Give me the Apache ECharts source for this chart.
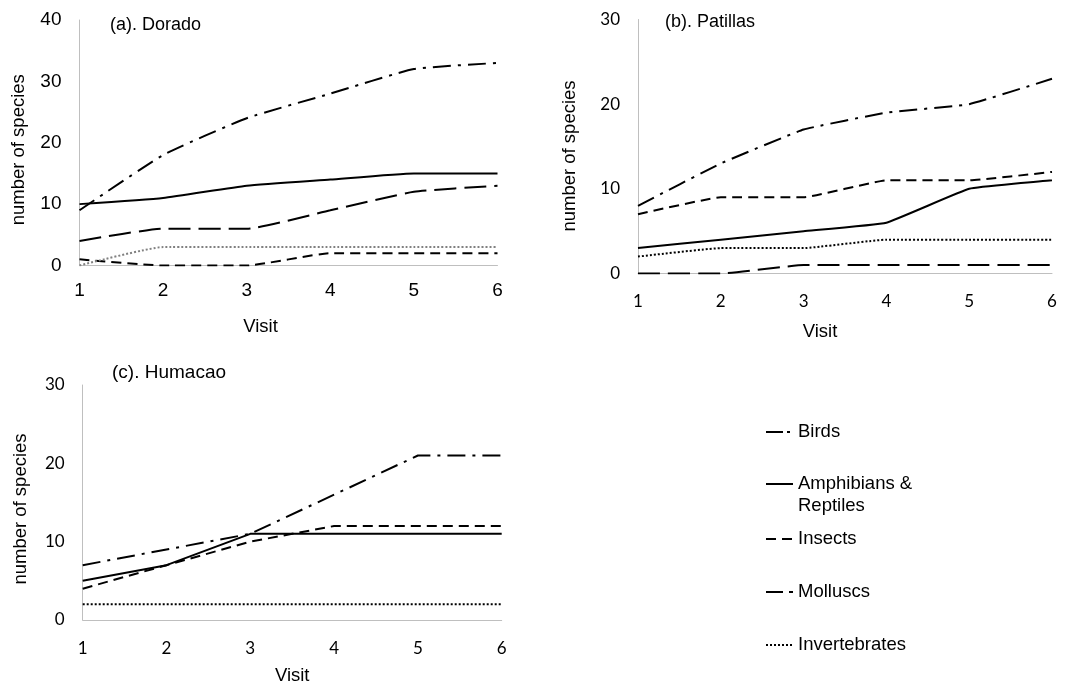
<!DOCTYPE html>
<html>
<head>
<meta charset="utf-8">
<script src="https://cdn.jsdelivr.net/npm/echarts@6/dist/echarts.min.js"></script>
<style>html,body{margin:0;padding:0;background:#fff}#c{width:1072px;height:686px}</style>
</head>
<body>
<div id="c"></div>
<script>
const visits = ['1', '2', '3', '4', '5', '6'];
const groups = ['Birds', 'Amphibians & Reptiles', 'Insects', 'Molluscs', 'Invertebrates'];

const doradoBirds = [9, 18, 24, 28, 32, 33];
const doradoAmph = [10, 11, 13, 14, 15, 15];
const doradoInsects = [1, 0, 0, 2, 2, 2];
const doradoMolluscs = [4, 6, 6, 9, 12, 13];
const doradoInvert = [0, 3, 3, 3, 3, 3];

const patillasBirds = [8, 13, 17, 19, 20, 23];
const patillasAmph = [3, 4, 5, 6, 10, 11];
const patillasInsects = [7, 9, 9, 11, 11, 12];
const patillasMolluscs = [0, 0, 1, 1, 1, 1];
const patillasInvert = [2, 3, 3, 4, 4, 4];

const humacaoBirds = [7, 9, 11, 16, 21, 21];
const humacaoAmph = [5, 7, 11, 11, 11, 11];
const humacaoInsects = [4, 7, 10, 12, 12, 12];
const humacaoMolluscs = [null, null, null, null, null, null];
const humacaoInvert = [2, 2, 2, 2, 2, 2];

const yTicksA = [0, 10, 20, 30, 40];
const yTicksBC = [0, 10, 20, 30];

const styles = {
  'Birds': { type: [18, 7, 3, 7], width: 2, color: '#000' },
  'Amphibians & Reptiles': { type: 'solid', width: 2, color: '#000' },
  'Insects': { type: [10, 6], width: 2, color: '#000' },
  'Molluscs': { type: [22, 8], width: 2, color: '#000' },
  'Invertebrates': { type: [2, 2], width: 2, color: '#000' }
};
const legendDash = {
  'Birds': [17, 4, 3, 4],
  'Amphibians & Reptiles': 'solid',
  'Insects': [10, 6],
  'Molluscs': [17, 6],
  'Invertebrates': [2, 2]
};

const panels = [
  { data: [doradoBirds, doradoAmph, doradoInsects, doradoMolluscs, doradoInvert], ticks: yTicksA, invColor: '#808080', smooth: 0.15 },
  { data: [patillasBirds, patillasAmph, patillasInsects, patillasMolluscs, patillasInvert], ticks: yTicksBC, invColor: '#000', smooth: 0.1 },
  { data: [humacaoBirds, humacaoAmph, humacaoInsects, humacaoMolluscs, humacaoInvert], ticks: yTicksBC, invColor: '#000', smooth: false }
];

const grids = [
  { left: 79.5, top: 20, width: 418, height: 245.5 },
  { left: 638, top: 19.5, width: 414, height: 254 },
  { left: 82.7, top: 385, width: 419, height: 235 }
];

const arial = 'Liberation Sans, Arial, sans-serif';
const cal = 'Lato, Open Sans, sans-serif';
const tickFont = [{ f: arial, s: 19 }, { f: cal, s: 17 }, { f: cal, s: 17 }];
const xLabelMargin = [16, 20, 20];
const xNameGap = [52, 49, 46];
const xNamePad = [[0, 56, 0, 0], [0, 50, 0, 0], [0, 0, 0, 0]];
const yNameGap = [51, 59, 52];
const yNamePad = [[0, 14, 0, 0], [0, 19, 0, 0], [0, 13, 0, 0]];
const nameSize = 18.5;

const axisLine = { show: true, lineStyle: { color: '#BFBFBF', width: 1 } };

const xAxis = grids.map((g, i) => ({
  type: 'category', gridIndex: i, data: visits, boundaryGap: false,
  axisLine: axisLine, axisTick: { show: false }, splitLine: { show: false },
  axisLabel: { color: '#000', fontFamily: tickFont[i].f, fontSize: tickFont[i].s, margin: xLabelMargin[i] },
  name: 'Visit', nameLocation: 'middle', nameGap: xNameGap[i],
  nameTextStyle: { color: '#000', fontFamily: arial, fontSize: nameSize, padding: xNamePad[i] }
}));

const yAxis = grids.map((g, i) => {
  const t = panels[i].ticks;
  return {
    type: 'value', gridIndex: i, min: t[0], max: t[t.length - 1], interval: t[1] - t[0],
    axisLine: axisLine, axisTick: { show: false }, splitLine: { show: false },
    axisLabel: { color: '#000', fontFamily: tickFont[i].f, fontSize: tickFont[i].s, margin: 18 },
    name: 'number of species', nameLocation: 'middle', nameGap: yNameGap[i], nameRotate: 90,
    nameTextStyle: { color: '#000', fontFamily: arial, fontSize: nameSize, padding: yNamePad[i] }
  };
});

const series = [];
panels.forEach((p, i) => {
  groups.forEach((name, k) => {
    const st = Object.assign({}, styles[name]);
    if (name === 'Invertebrates') st.color = p.invColor;
    series.push({
      name: name, type: 'line', xAxisIndex: i, yAxisIndex: i,
      data: p.data[k], symbol: 'none', smooth: p.smooth, silent: true, animation: false,
      lineStyle: st, itemStyle: { color: st.color }
    });
  });
});

const legendTops = [421, 451, 528, 581, 634];
const legends = groups.map((name, k) => ({
  data: [name], left: 765, top: legendTops[k], orient: 'vertical', padding: 0,
  itemWidth: 27, itemHeight: 14, selectedMode: false,
  formatter: n => n === 'Amphibians & Reptiles' ? '\nAmphibians &\nReptiles' : n,
  textStyle: { color: '#000', fontFamily: arial, fontSize: 18.5, lineHeight: 22 },
  lineStyle: { type: legendDash[name], width: 2, color: '#000' },
  itemStyle: { color: 'rgba(0,0,0,0)', borderWidth: 0, opacity: 0 }
}));

const titleStyle = { color: '#000', fontFamily: arial, fontSize: 18, fontWeight: 'normal' };
const titles = [
  { text: '(a). Dorado', left: 110, top: 16, padding: 0, textStyle: titleStyle },
  { text: '(b). Patillas', left: 665, top: 13, padding: 0, textStyle: titleStyle },
  { text: '(c). Humacao', left: 112, top: 363, padding: 0, textStyle: Object.assign({}, titleStyle, { fontSize: 19 }) }
];

const chart = echarts.init(document.getElementById('c'), null, { renderer: 'canvas' });
chart.setOption({
  backgroundColor: '#fff',
  animation: false,
  title: titles,
  grid: grids,
  xAxis: xAxis,
  yAxis: yAxis,
  legend: legends,
  series: series
});
</script>
</body>
</html>
